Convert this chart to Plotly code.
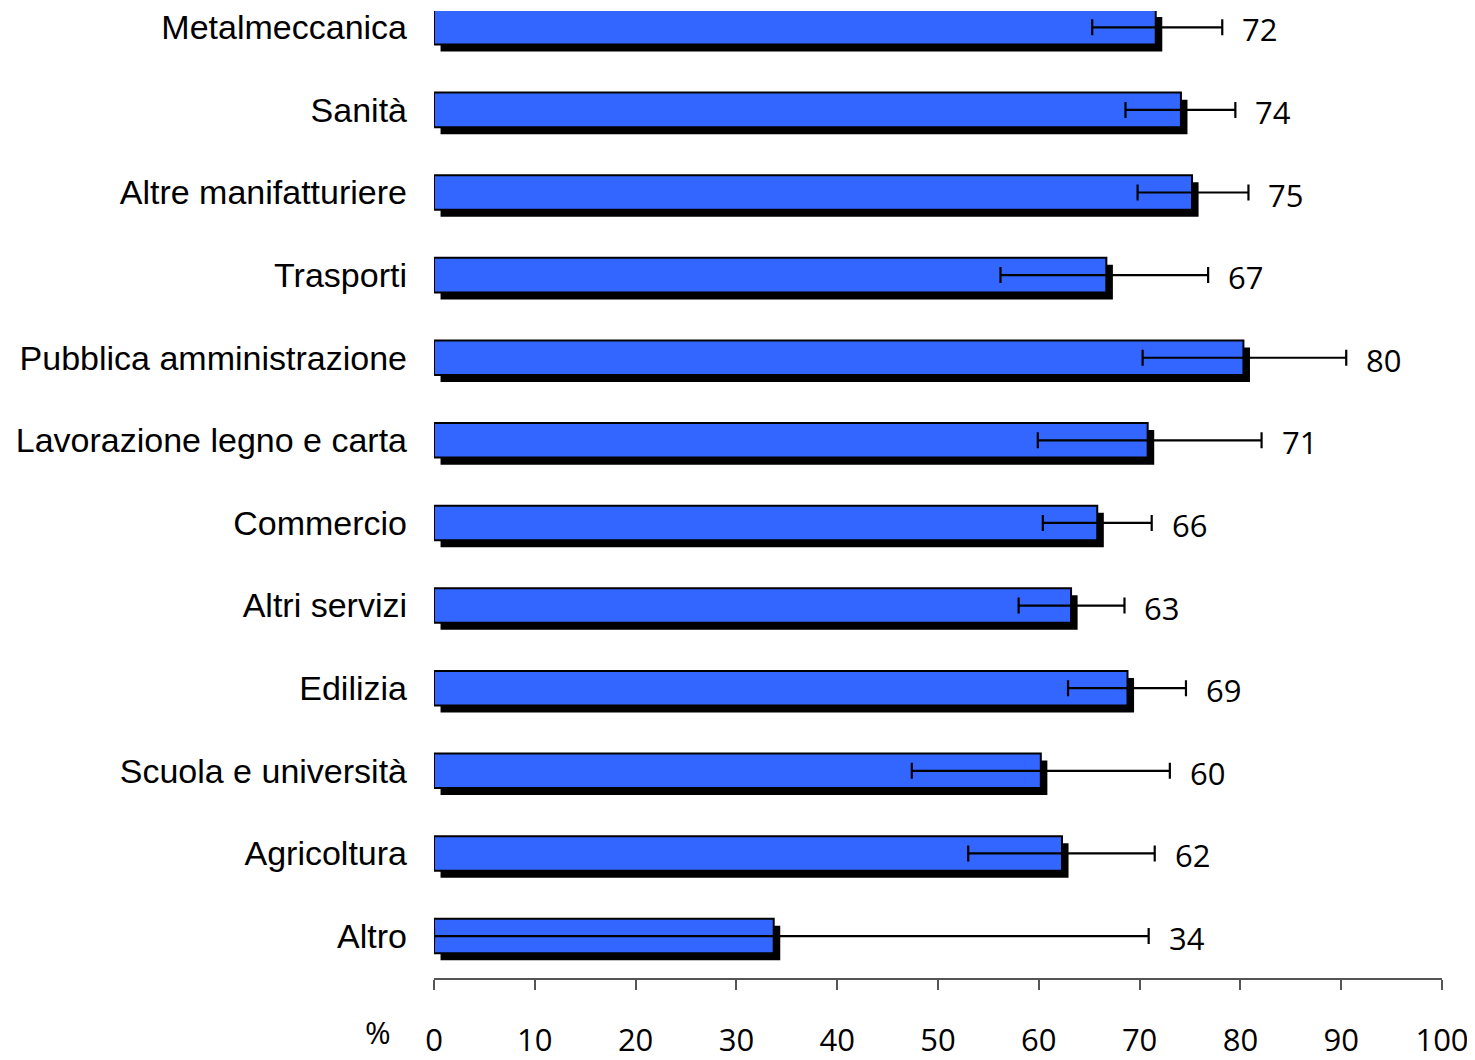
import plotly.graph_objects as go

categories = ["Metalmeccanica", "Sanità", "Altre manifatturiere", "Trasporti",
              "Pubblica amministrazione", "Lavorazione legno e carta", "Commercio",
              "Altri servizi", "Edilizia", "Scuola e università", "Agricoltura", "Altro"]
values = [71.6, 74.1, 75.2, 66.7, 80.3, 70.8, 65.8, 63.2, 68.8, 60.2, 62.3, 33.7]
ci_low = [65.3, 68.6, 69.8, 56.2, 70.3, 59.9, 60.4, 58.0, 62.9, 47.4, 53.0, 0.0]
ci_high = [78.2, 79.5, 80.8, 76.8, 90.5, 82.1, 71.2, 68.5, 74.6, 73.0, 71.5, 70.9]
labels = [str(round(v)) for v in values]
x_ticks = list(range(0, 101, 10))

BAR_W = 0.418
SHADOW_DX = 0.65   # shadow horizontal offset (axis units)
SHADOW_DY = 0.085  # shadow vertical offset (category units)

fig = go.Figure()

# shadow
fig.add_trace(go.Bar(
    y=categories, x=values, base=SHADOW_DX, orientation="h",
    width=BAR_W, offset=-BAR_W / 2 + SHADOW_DY,
    marker=dict(color="black", line=dict(width=0)),
    hoverinfo="skip", showlegend=False,
))

# main bars
fig.add_trace(go.Bar(
    y=categories, x=values, orientation="h",
    width=BAR_W, offset=-BAR_W / 2,
    marker=dict(color="#3366FF", line=dict(color="black", width=2)),
    error_x=dict(type="data", symmetric=False,
                 array=[h - v for h, v in zip(ci_high, values)],
                 arrayminus=[v - l for v, l in zip(values, ci_low)],
                 color="black", thickness=2.2, width=8),
    showlegend=False,
))

for cat, hi, lab in zip(categories, ci_high, labels):
    fig.add_annotation(x=hi, y=cat, text=lab, showarrow=False,
                       xanchor="left", xshift=18, yshift=-2,
                       font=dict(family="Open Sans", size=31, color="black"))

fig.add_annotation(xref="paper", yref="paper", x=0, y=0, xshift=-56, yshift=-54,
                   text="%", showarrow=False, xanchor="center", yanchor="middle",
                   font=dict(family="Open Sans", size=31, color="black"))

fig.update_layout(
    width=1467, height=1052,
    margin=dict(l=426, r=33, t=0, b=72),
    paper_bgcolor="white", plot_bgcolor="white",
    barmode="overlay",
    xaxis=dict(range=[0, 100], tickvals=x_ticks, showgrid=False, zeroline=False,
               showline=True, linecolor="#555", linewidth=1.5,
               ticks="outside", ticklen=10, tickcolor="#555", tickwidth=1.5,
               ticklabelstandoff=24,
               tickfont=dict(family="Open Sans", size=31, color="black")),
    yaxis=dict(categoryorder="array", categoryarray=categories,
               range=[11.508, -0.197], showgrid=False, zeroline=False,
               showline=False, ticks="", ticklabelstandoff=26,
               tickfont=dict(family="Liberation Sans", size=34, color="black")),
)

fig.write_html("out.html")
